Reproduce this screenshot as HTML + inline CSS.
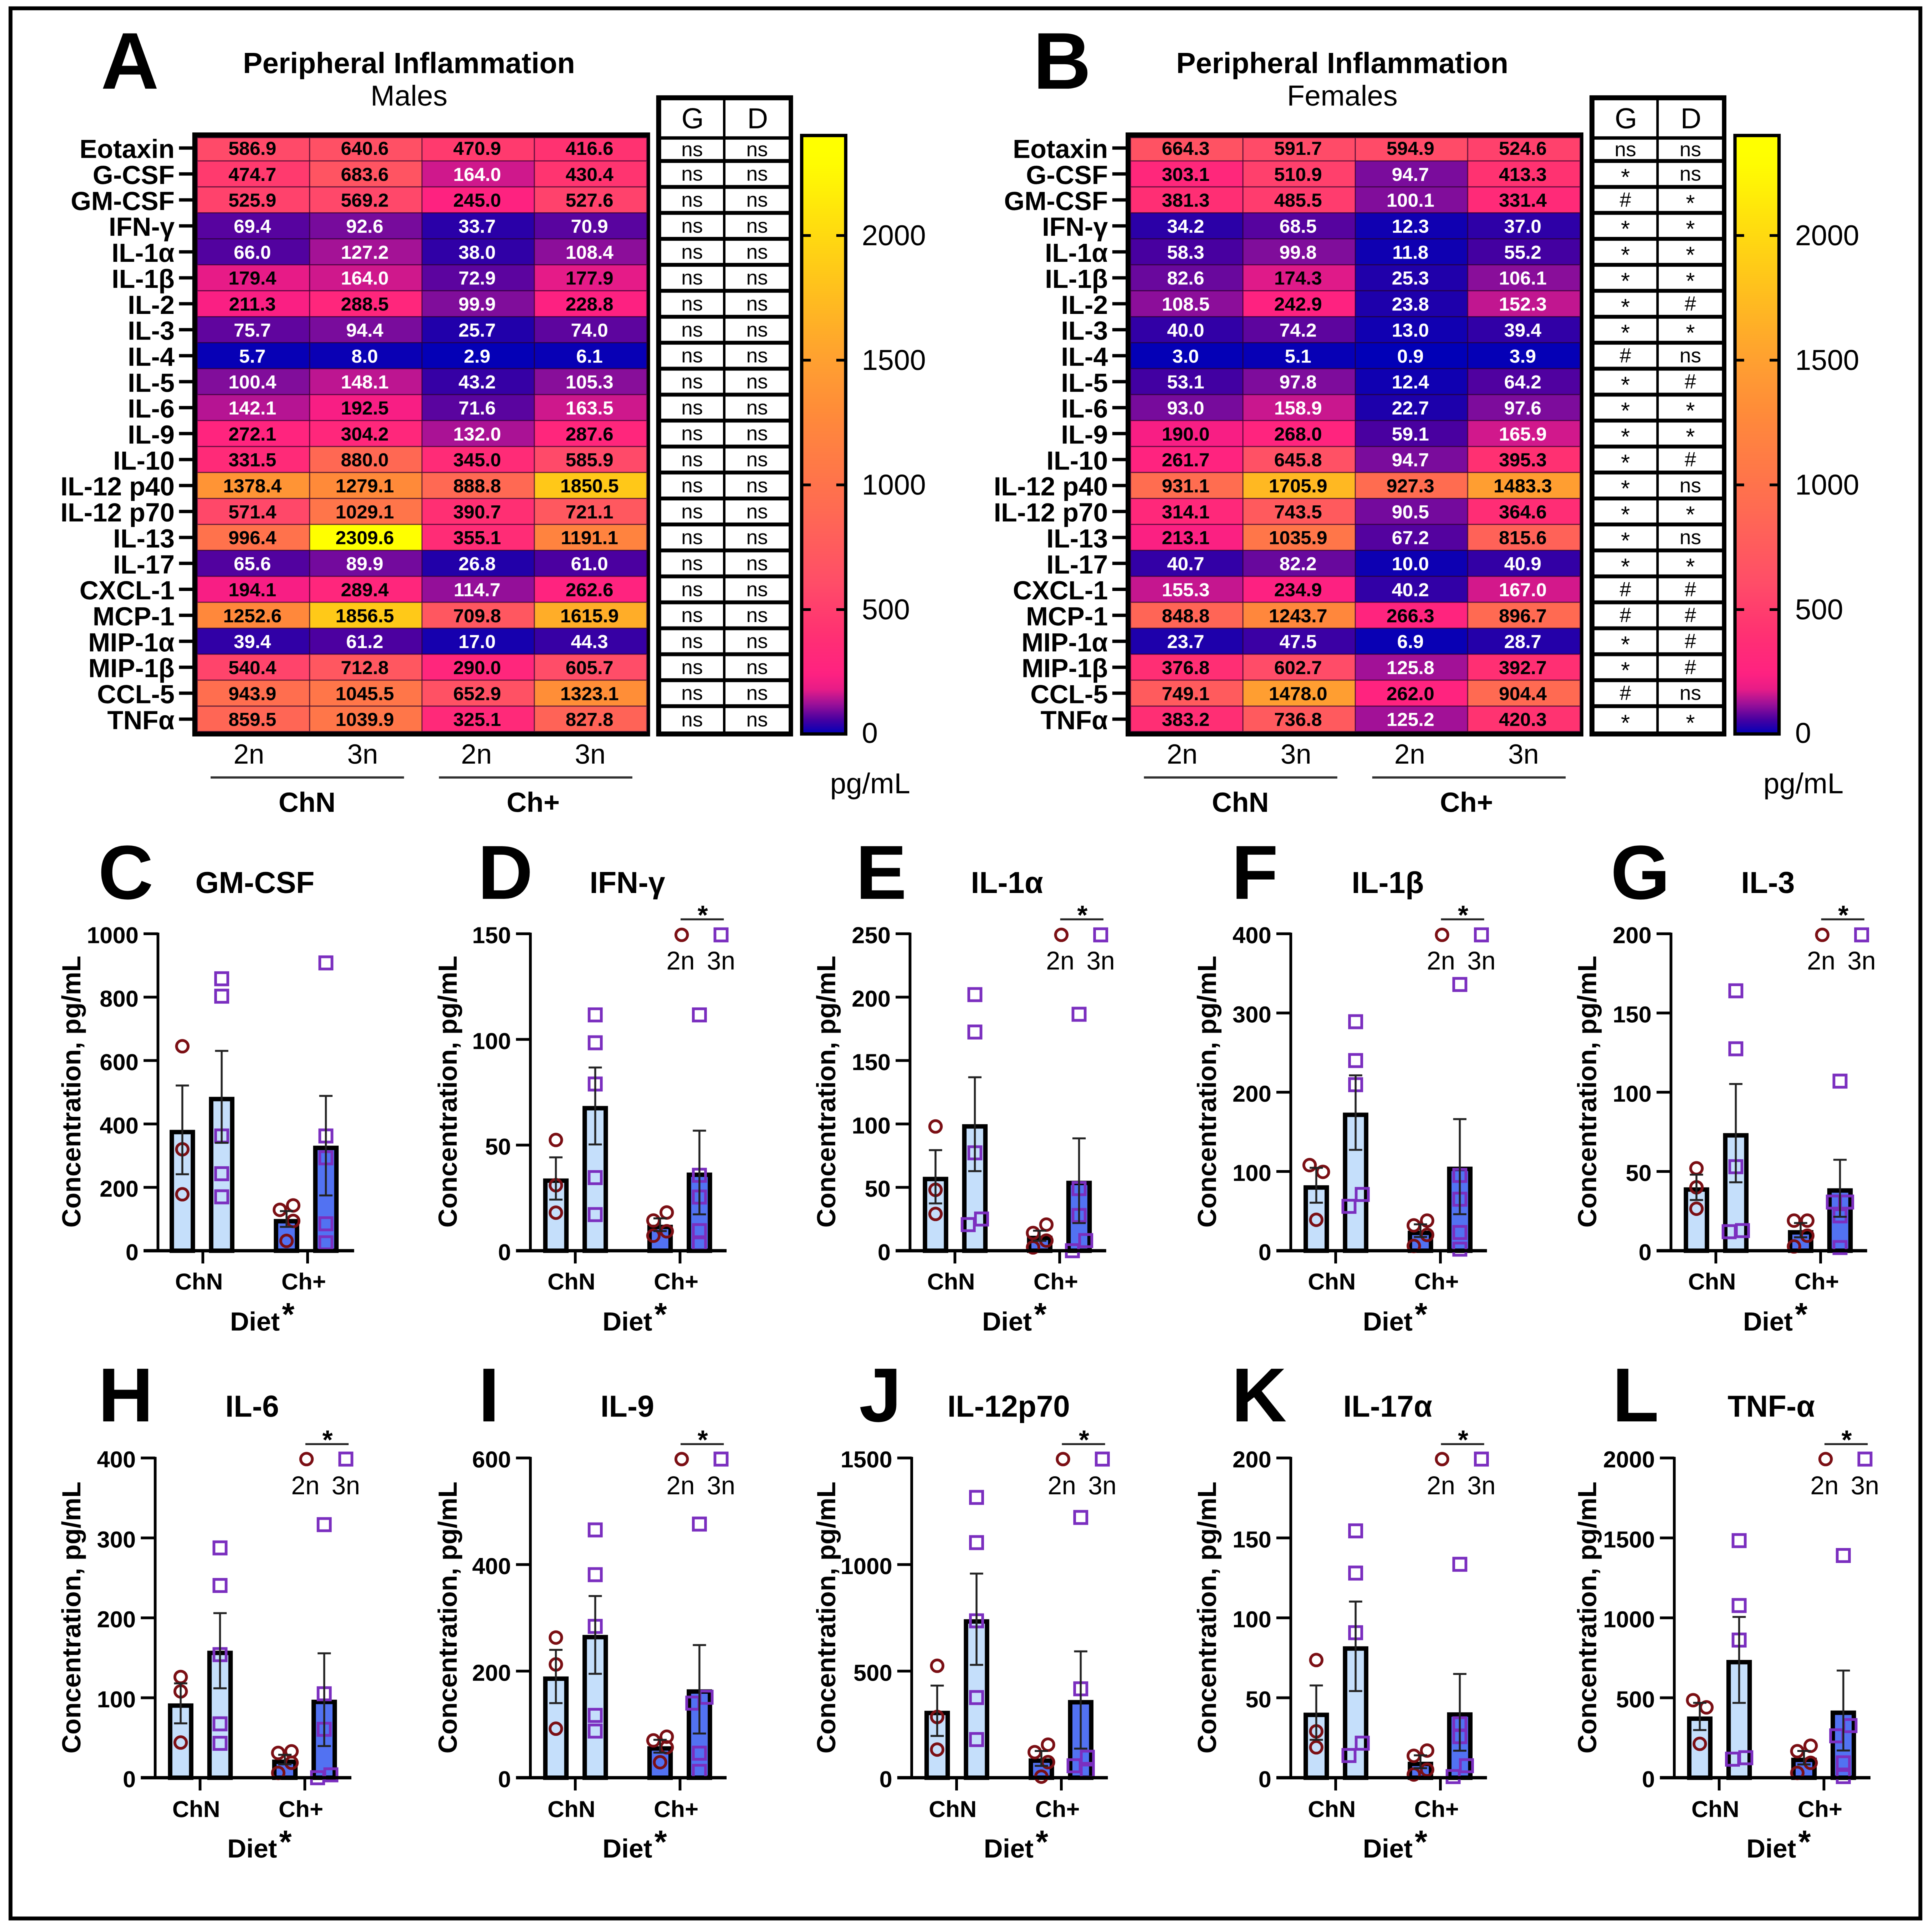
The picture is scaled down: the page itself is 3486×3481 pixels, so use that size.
<!DOCTYPE html>
<html lang="en">
<head>
<meta charset="utf-8">
<title>Peripheral Inflammation</title>
<style>
html,body{margin:0;padding:0;background:#fff;}
svg{display:block;font-family:"Liberation Sans",Arial,sans-serif;filter:blur(0.9px);}
</style>
</head>
<body>
<svg id="fig" xmlns="http://www.w3.org/2000/svg" width="3486" height="3481" viewBox="0 0 3486 3481">
<defs id="defs"></defs>
<rect x="0" y="0" width="3486" height="3481" fill="#fff"/>
<rect x="19" y="15" width="3446" height="3447" fill="none" stroke="#000" stroke-width="7"/>
</svg>
<script>
/* ---------- heatmap data ---------- */
const rowLabels = ["Eotaxin","G-CSF","GM-CSF","IFN-γ","IL-1α","IL-1β","IL-2","IL-3","IL-4","IL-5","IL-6","IL-9","IL-10","IL-12 p40","IL-12 p70","IL-13","IL-17","CXCL-1","MCP-1","MIP-1α","MIP-1β","CCL-5","TNFα"];
const groupLabels = ["2n","3n","2n","3n"];
const dietLabels = ["ChN","Ch+"];
const colorbarTicks = [0,500,1000,1500,2000];
const maleValues = [
[586.9,640.6,470.9,416.6],[474.7,683.6,164.0,430.4],[525.9,569.2,245.0,527.6],[69.4,92.6,33.7,70.9],
[66.0,127.2,38.0,108.4],[179.4,164.0,72.9,177.9],[211.3,288.5,99.9,228.8],[75.7,94.4,25.7,74.0],
[5.7,8.0,2.9,6.1],[100.4,148.1,43.2,105.3],[142.1,192.5,71.6,163.5],[272.1,304.2,132.0,287.6],
[331.5,880.0,345.0,585.9],[1378.4,1279.1,888.8,1850.5],[571.4,1029.1,390.7,721.1],[996.4,2309.6,355.1,1191.1],
[65.6,89.9,26.8,61.0],[194.1,289.4,114.7,262.6],[1252.6,1856.5,709.8,1615.9],[39.4,61.2,17.0,44.3],
[540.4,712.8,290.0,605.7],[943.9,1045.5,652.9,1323.1],[859.5,1039.9,325.1,827.8]];
const femaleValues = [
[664.3,591.7,594.9,524.6],[303.1,510.9,94.7,413.3],[381.3,485.5,100.1,331.4],[34.2,68.5,12.3,37.0],
[58.3,99.8,11.8,55.2],[82.6,174.3,25.3,106.1],[108.5,242.9,23.8,152.3],[40.0,74.2,13.0,39.4],
[3.0,5.1,0.9,3.9],[53.1,97.8,12.4,64.2],[93.0,158.9,22.7,97.6],[190.0,268.0,59.1,165.9],
[261.7,645.8,94.7,395.3],[931.1,1705.9,927.3,1483.3],[314.1,743.5,90.5,364.6],[213.1,1035.9,67.2,815.6],
[40.7,82.2,10.0,40.9],[155.3,234.9,40.2,167.0],[848.8,1243.7,266.3,896.7],[23.7,47.5,6.9,28.7],
[376.8,602.7,125.8,392.7],[749.1,1478.0,262.0,904.4],[383.2,736.8,125.2,420.3]];
const maleStats = rowLabels.map(function(){return ["ns","ns"];});
const femaleStats = [["ns","ns"],["*","ns"],["#","*"],["*","*"],["*","*"],["*","*"],["*","#"],["*","*"],["#","ns"],["*","#"],["*","*"],["*","*"],["*","#"],["*","ns"],["*","*"],["*","ns"],["*","*"],["#","#"],["#","#"],["*","#"],["*","#"],["#","ns"],["*","*"]];

/* ---------- bar panel data: order 2n ChN, 3n ChN, 2n Ch+, 3n Ch+ ---------- */
const panelLetters = ["C","D","E","F","G","H","I","J","K","L"];
const panelTitles = ["GM-CSF","IFN-γ","IL-1α","IL-1β","IL-3","IL-6","IL-9","IL-12p70","IL-17α","TNF-α"];
const panelTicks = [[0,200,400,600,800,1000],[0,50,100,150],[0,50,100,150,200,250],[0,100,200,300,400],[0,50,100,150,200],[0,100,200,300,400],[0,200,400,600],[0,500,1000,1500],[0,50,100,150,200],[0,500,1000,1500,2000]];
const barMeans = [[381.3,485.5,100.1,331.4],[34.2,68.5,12.3,37.0],[58.3,99.8,11.8,55.2],[82.6,174.3,25.3,106.1],[40.0,74.2,13.0,39.4],[93.0,158.9,22.7,97.6],[190.0,268.0,59.1,165.9],[314.1,743.5,90.5,364.6],[40.7,82.2,10.0,40.9],[383.2,736.8,125.2,420.3]];
const barErrors = [[140,145,25,157],[10,18.2,3,19.8],[21,37,4,33.4],[22,47,8,60],[8,31,4.5,18],[25,47,6,58],[50,73,12,83],[118,214,35,228],[17,28,4,24],[85,269,42,250]];
const pointValues = [
[[645,320,178],[858,803,362,243,170],[143,129,94,31],[908,362,293,85,25]],
[[52.4,31,18],[111.6,98.4,78.9,34.6,17.1],[18.1,14.3,9.2,7.1],[111.6,35.7,25.4,9.5,3.2]],
[[98,48,29],[202,172.5,77.2,25,20.6],[20.6,14,8,2.6],[186.5,49,27.8,8,0]],
[[108,99.5,39],[289,240,209.5,71,56],[38,32,20,6],[336,95,65,23,2]],
[[52,40,26.5],[164,127.4,53,12.7,12],[19,19,9.5,2.7],[107,30.7,30.7,22,2]],
[[126,108,44],[287.5,240.5,154,67.4,43],[33,31,18.7,6],[316.6,105,60.6,3.6,0]],
[[263,212.6,92],[465,381,284,117,87.5],[77,70,57,29],[476,151,140,46,12]],
[[525,285,132],[1315,1103,736,376,179],[155,120,73,5],[1221,417,96,56,31]],
[[73.6,29,19],[154.4,128,90.7,21.6,13.9],[17,13.7,5,2],[133.5,33.7,25.7,7.5,0.7]],
[[485,440,212],[1483,1077,861,125,116],[200,166,93,30],[1390,326,262,93,7]]];

/* ---------- layout (not data) ---------- */
const rowLayouts = [
 {top:1685,base:2257,letterBase:1622,title:1592,xlabel:2312,diet:2384,star:2371,ytitle:1970,legCirc:1687,legText:1733,legLine:1659,legStar:1650},
 {top:2631,base:3208,letterBase:2565,title:2537,xlabel:3264,diet:3335,star:3323,ytitle:2919,legCirc:2633,legText:2680,legLine:2606,legStar:2597}];
const axisColumns = [285,957,1642,2329,3015,280,957,1645,2329,3021];
const letterLefts = [177,862,1544,2222,2906,177,863,1550,2222,2909];
const ytitleBases = [145,824,1507,2194,2880,145,824,1507,2194,2880];

const NS = "http://www.w3.org/2000/svg";
const svg = document.getElementById("fig");
const defs = document.getElementById("defs");

function mk(tag, attrs, parent){
  const e = document.createElementNS(NS, tag);
  for(const k in attrs){ e.setAttribute(k, attrs[k]); }
  (parent || svg).appendChild(e);
  return e;
}
function txt(s, x, cy, size, weight, anchor, fill, parent){
  const e = mk("text", {x:x, y:cy + size*0.36, "font-size":size, "font-weight":weight, "text-anchor":anchor, fill:fill}, parent);
  e.textContent = s;
  return e;
}
const colorStops = [[0,"#0000b8"],[25,"#2000aa"],[60,"#4a00a0"],[95,"#7a0c9c"],[130,"#a81296"],[165,"#d0188c"],[190,"#f81e84"],[250,"#ff2280"],[400,"#ff3072"],[600,"#ff4c68"],[900,"#ff6a52"],[1300,"#ff8c38"],[1500,"#ffa030"],[1850,"#ffc818"],[2310,"#ffff00"]];
function hexRgb(h){ return [parseInt(h.substr(1,2),16),parseInt(h.substr(3,2),16),parseInt(h.substr(5,2),16)]; }
function colorFor(v){
  if(v <= 0) return colorStops[0][1];
  for(let i=1;i<colorStops.length;i++){
    if(v <= colorStops[i][0]){
      const a=colorStops[i-1], b=colorStops[i], t=(v-a[0])/(b[0]-a[0]);
      const ca=hexRgb(a[1]), cb=hexRgb(b[1]);
      return "rgb("+ca.map(function(c,j){return Math.round(c+(cb[j]-c)*t);}).join(",")+")";
    }
  }
  return colorStops[colorStops.length-1][1];
}

/* ---------- heatmap scales ---------- */
const ROW0 = 290.5, ROWH = 46.85;
function rowTop(r){ return r === 0 ? 248.5 : ROW0 + ROWH*(r-1); }
function rowBottom(r){ return ROW0 + ROWH*r; }
function rowCenter(r){ return ROW0 + ROWH*(r-0.5); }
const colEdges = [0,1,2,3,4].map(function(i){ return 356 + 202.75*i; });
function barColorY(v){ return 1325 - 0.45*v; }

function drawHeatPanel(dx, letter, subtitle, values, stats, gid){
  const g = mk("g", {});
  
  

  const l = txt(letter, 0, 0, 145, "bold", "start", "#000", g);
  l.setAttribute("x", (letter === "A" ? 182 : 180) + dx);
  l.setAttribute("y", 160);
  
  

  const t = txt("Peripheral Inflammation", 738+dx, 113, 52.6, "bold", "middle", "#000", g);
  
  

  const st = txt(subtitle, 738+dx, 172, 52, "normal", "middle", "#000", g);
  
  

  const frame = mk("rect", {x:347+dx, y:239, width:826, height:1090, fill:"#000"}, g);
  
  

  values.forEach(function(row, r){
    const lab = txt(rowLabels[r], 315+dx, rowCenter(r)+1, 47.5, "bold", "end", "#000", g);
    
    

    const tick = mk("line", {x1:323+dx, x2:347+dx, y1:rowCenter(r), y2:rowCenter(r), stroke:"#000", "stroke-width":6}, g);
    
    

    row.forEach(function(v, c){
      const cell = mk("rect", {x:colEdges[c]+dx, y:rowTop(r), width:colEdges[c+1]-colEdges[c], height:Math.min(rowBottom(r),1320)-rowTop(r), fill:colorFor(v), stroke:"rgba(40,0,40,0.55)", "stroke-width":2}, g);
      
      

      const val = txt(v.toFixed(1), (colEdges[c]+colEdges[c+1])/2 - 2 + dx, rowCenter(r), 34.5, "bold", "middle", v < 170 ? "#fff" : "#000", g);
      
      
    });
  });

  groupLabels.forEach(function(s, c){
    const gl = txt(s, 449 + 205.3*c + dx, 1360, 50, "normal", "middle", "#000", g);
    
    
  });
  dietLabels.forEach(function(s, i){
    const x0 = 380 + 412*i + dx;
    const ul = mk("line", {x1:x0, x2:x0+349, y1:1403, y2:1403, stroke:"#333", "stroke-width":4}, g);
    
    

    const dl = txt(s, x0+174 - (i ? 4 : 0), 1447, 50, "bold", "middle", "#000", g);
    
    
  });

  /* significance table */
  const tb = mk("rect", {x:1184+dx, y:172, width:247, height:1157, fill:"#000"}, g);
  
  

  const colsX = [[1193,111.5],[1309,114]];
  ["G","D"].forEach(function(h, c){
    const hb = mk("rect", {x:colsX[c][0]+dx, y:181, width:colsX[c][1], height:65, fill:"#fff"}, g);
    
    

    const ht = txt(h, colsX[c][0]+colsX[c][1]/2+1+dx, 213, 52, "normal", "middle", "#000", g);
    
    

    stats.forEach(function(pair, r){
      const top = r === 0 ? 252 : rowTop(r)+3.5;
      const bot = r === 22 ? 1320 : rowBottom(r)-3.5;
      const b = mk("rect", {x:colsX[c][0]+dx, y:top, width:colsX[c][1], height:bot-top, fill:"#fff"}, g);
      
      

      const mark = pair[c];
      const cy = (top+bot)/2 - 1 + (mark === "*" ? 6 : 0);
      const m = txt(mark, colsX[c][0]+colsX[c][1]/2+dx, cy, mark === "*" ? 42 : 37, "normal", "middle", "#000", g);
      
      
    });
  });

  /* colorbar */
  const grad = mk("linearGradient", {id:gid, x1:0, y1:1, x2:0, y2:0}, defs);
  for(let i=0;i<=40;i++){
    const f = i/40;
    mk("stop", {offset:f, "stop-color":colorFor(f*2395)}, grad);
  }
  const cb = mk("rect", {x:1446.5+dx, y:244.5, width:79.5, height:80+1000, fill:"url(#"+gid+")", stroke:"#000", "stroke-width":6}, g);
  
  

  colorbarTicks.forEach(function(v){
    if(v > 0){
      const t1 = mk("line", {x1:1449+dx, x2:1463+dx, y1:barColorY(v), y2:barColorY(v), stroke:"#000", "stroke-width":5}, g);
      
      

      const t2 = mk("line", {x1:1509+dx, x2:1523+dx, y1:barColorY(v), y2:barColorY(v), stroke:"#000", "stroke-width":5}, g);
      
      
    }
    const lb = txt(String(v), 1555+dx, barColorY(v)-(v ? 1 : 3), 52, "normal", "start", "#000", g);
    
    
  });

  const unit = txt("pg/mL", 1570+dx, 1413, 52, "normal", "middle", "#000", g);
  
  
}

drawHeatPanel(0, "A", "Males", maleValues, maleStats, "cbA");
drawHeatPanel(1684, "B", "Females", femaleValues, femaleStats, "cbB");

/* ---------- bar panels ---------- */
const barOffsets = [46,117,234,305];
const C_LIGHT = "#c5dffb", C_DARK = "#5272f2", C_CIRC = "#7b0f14", C_SQ = "#7b2fbf";

/* simple swarm: points closer than a marker height sit side by side */
function swarm(vals, y, side){
  const sorted = vals.slice().sort(function(a,b){return b-a;});
  const out = [];
  let chain = [];
  function flush(){
    chain.forEach(function(v,i){
      const off = chain.length === 1 ? 0 : (i%2 === 0 ? 12 : -12)*side;
      out.push([v, off]);
    });
    chain = [];
  }
  sorted.forEach(function(v,i){
    if(i > 0 && y(v) - y(sorted[i-1]) >= 23) flush();
    chain.push(v);
  });
  flush();
  return out;
}

panelTitles.forEach(function(title, p){
  const L = rowLayouts[p < 5 ? 0 : 1];
  const ax = axisColumns[p];
  const ticks = panelTicks[p];
  const maxV = ticks[ticks.length-1];
  const y = function(v){ return L.base - (v/maxV)*(L.base-L.top); };
  const shift = p === 0 ? -2 : 0;

  const g = mk("g", {});
  
  

  const letter = txt(panelLetters[p], letterLefts[p], 0, 138, "bold", "start", "#000", g);
  letter.setAttribute("y", L.letterBase);
  
  

  const tt = txt(title, ax+175, L.title, 54.5, "bold", "middle", "#000", g);
  
  

  const yt = mk("text", {transform:"translate("+ytitleBases[p]+","+L.ytitle+") rotate(-90)", "font-size":47.5, "font-weight":"bold", "text-anchor":"middle", fill:"#000"}, g);
  yt.textContent = "Concentration, pg/mL";
  
  

  /* bars: the stroke sits inside the value line */
  barMeans[p].forEach(function(m, i){
    const cx = ax + barOffsets[i] + shift;
    const h = Math.max(L.base-y(m)-4, 0);
    const bar = mk("rect", {x:cx-19, y:L.base-h, width:38, height:h, fill:i < 2 ? C_LIGHT : C_DARK, stroke:"#000", "stroke-width":8}, g);
    
    
  });

  /* points */
  pointValues[p].forEach(function(vals, i){
    const cx = ax + barOffsets[i] + shift;
    swarm(vals, y, i === 0 ? -1 : 1).forEach(function(pt){
      if(i % 2 === 0){
        const c = mk("circle", {cx:cx+pt[1], cy:y(pt[0]), r:10.5, fill:"none", stroke:C_CIRC, "stroke-width":5}, g);
        
        
      } else {
        const s = mk("rect", {x:cx+pt[1]-11, y:y(pt[0])-11, width:22, height:22, fill:"none", stroke:C_SQ, "stroke-width":5}, g);
        
        
      }
    });
  });

  /* error bars */
  barErrors[p].forEach(function(se, i){
    const cx = ax + barOffsets[i] + shift;
    const m = barMeans[p][i];
    const stem = mk("line", {x1:cx, x2:cx, y1:y(m+se), y2:y(Math.max(m-se,0)), stroke:"#222", "stroke-width":3.5}, g);
    
    

    const capTop = mk("line", {x1:cx-12, x2:cx+12, y1:y(m+se), y2:y(m+se), stroke:"#222", "stroke-width":3.5}, g);
    
    

    const capLow = mk("line", {x1:cx-12, x2:cx+12, y1:y(Math.max(m-se,0)), y2:y(Math.max(m-se,0)), stroke:"#222", "stroke-width":3.5}, g);
    
    
  });

  /* axes */
  const yAxis = mk("line", {x1:ax, x2:ax, y1:L.top-2, y2:L.base, stroke:"#000", "stroke-width":5}, g);
  
  

  const xAxis = mk("line", {x1:ax-26, x2:ax+354, y1:L.base, y2:L.base, stroke:"#000", "stroke-width":6}, g);
  
  

  ticks.forEach(function(v){
    const tk = mk("line", {x1:ax-26, x2:ax, y1:y(v), y2:y(v), stroke:"#000", "stroke-width":5}, g);
    
    

    const tl = txt(String(v), ax-35, y(v)+2, 42, "bold", "end", "#000", g);
    
    
  });

  dietLabels.forEach(function(s, i){
    const tx = ax + (i ? 270 : 81);
    const xt = mk("line", {x1:tx, x2:tx, y1:L.base, y2:L.base+23, stroke:"#000", "stroke-width":5}, g);
    
    

    const xl = txt(s, ax + (i ? 263 : 74), L.xlabel, 42, "bold", "middle", "#000", g);
    
    
  });

  const diet = txt("Diet", ax+175, L.diet, 47.5, "bold", "middle", "#000", g);
  
  

  const dietStar = txt("*", ax+235, L.star, 58, "bold", "middle", "#000", g);
  
  

  /* legend (not on panel C) */
  if(p !== 0){
    const lc = mk("circle", {cx:ax+273, cy:L.legCirc, r:10.5, fill:"none", stroke:C_CIRC, "stroke-width":5}, g);
    
    

    const ls = mk("rect", {x:ax+344-11, y:L.legCirc-11, width:22, height:22, fill:"none", stroke:C_SQ, "stroke-width":5}, g);
    
    

    const l2 = txt("2n", ax+271, L.legText, 46, "normal", "middle", "#000", g);
    
    

    const l3 = txt("3n", ax+344, L.legText, 46, "normal", "middle", "#000", g);
    
    

    const br = mk("line", {x1:ax+271, x2:ax+349, y1:L.legLine, y2:L.legLine, stroke:"#222", "stroke-width":3.5}, g);
    
    

    const bs = txt("*", ax+311, L.legStar, 48, "bold", "middle", "#000", g);
    
    
  }
});
</script>
</body>
</html>
